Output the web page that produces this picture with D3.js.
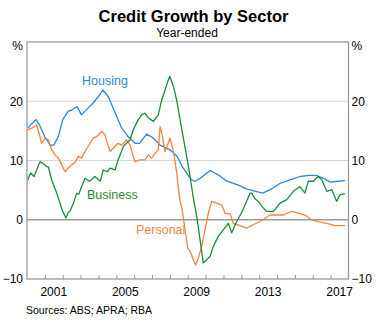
<!DOCTYPE html>
<html><head><meta charset="utf-8">
<script src="https://cdn.jsdelivr.net/npm/d3@7/dist/d3.min.js"></script>
<style>
body{margin:0;background:#fff;}
text{font-family:"Liberation Sans",Arial,sans-serif;}
</style></head>
<body><svg id="c" width="387" height="336"></svg>
<script>
const housingDates = [2000.05,2000.3,2000.5,2000.7,2001.0,2001.3,2001.5,2001.75,2002.0,2002.3,2002.55,2002.8,2003.05,2003.4,2003.7,2004.0,2004.25,2004.55,2004.9,2005.3,2005.67,2006.05,2006.3,2006.7,2007.07,2007.45,2008.0,2008.4,2008.75,2009.2,2009.4,2009.7,2010.25,2010.7,2011.2,2011.8,2012.3,2012.8,2013.2,2013.7,2014.2,2014.8,2015.3,2015.8,2016.2,2016.6,2016.97,2017.4,2017.8];
const housingValues = [15.5,16.3,16.9,16.0,14.0,12.6,12.6,14.0,16.9,18.3,18.6,19.1,17.7,18.8,19.7,20.8,21.9,20.8,18.3,15.5,14.0,12.9,12.9,14.45,13.8,12.6,11.8,10.7,8.7,6.75,6.5,7.0,8.3,7.6,6.5,5.9,5.2,4.8,4.5,5.2,6.2,6.8,7.3,7.5,7.5,7.0,6.35,6.5,6.6];

const businessDates = [2000.05,2000.2,2000.4,2000.55,2000.73,2000.9,2001.1,2001.2,2001.38,2001.66,2001.85,2002.0,2002.18,2002.3,2002.4,2002.6,2002.78,2002.9,2003.06,2003.25,2003.5,2003.8,2004.1,2004.27,2004.5,2004.65,2004.93,2005.1,2005.4,2005.77,2005.95,2006.23,2006.42,2006.6,2006.8,2007.07,2007.35,2007.54,2007.73,2007.91,2008.0,2008.2,2008.38,2008.57,2008.75,2008.94,2009.13,2009.3,2009.5,2009.69,2009.87,2010.05,2010.25,2010.43,2010.71,2010.99,2011.27,2011.46,2011.74,2012.0,2012.25,2012.49,2012.58,2012.75,2012.95,2013.23,2013.42,2013.8,2014.17,2014.54,2014.91,2015.28,2015.56,2015.75,2016.03,2016.3,2016.5,2016.78,2017.06,2017.34,2017.52,2017.8];
const businessValues = [6.75,7.9,7.3,8.5,9.8,9.5,9.0,8.9,6.75,4.5,2.8,1.4,0.3,1.2,1.4,2.8,4.5,4.3,5.6,7.0,6.5,7.3,6.5,8.4,8.1,8.7,8.4,10.1,12.4,13.5,15.2,16.9,17.7,18.0,17.2,16.6,17.7,20.2,21.9,23.6,24.2,22.5,20.2,16.9,13.8,10.7,7.3,3.9,0.6,-3.4,-7.3,-6.75,-6.2,-4.5,-2.8,-1.7,-0.6,-2.2,-0.3,1.1,2.8,4.5,4.5,3.6,3.1,2.0,1.4,1.4,2.8,3.4,4.8,5.6,4.5,6.5,6.5,7.3,6.75,4.8,5.1,3.1,4.2,4.4];

const personalDates = [2000.05,2000.3,2000.54,2000.73,2000.82,2001.0,2001.2,2001.38,2001.57,2001.75,2001.94,2002.13,2002.3,2002.5,2002.68,2002.87,2003.05,2003.25,2003.43,2003.71,2003.9,2004.18,2004.37,2004.47,2004.65,2004.83,2005.1,2005.3,2005.58,2005.77,2005.95,2006.05,2006.33,2006.6,2006.8,2006.98,2007.17,2007.35,2007.45,2007.55,2007.73,2007.85,2008.0,2008.13,2008.28,2008.38,2008.47,2008.57,2008.66,2008.85,2009.0,2009.13,2009.31,2009.44,2009.59,2009.78,2009.97,2010.15,2010.34,2010.62,2010.9,2011.09,2011.37,2011.55,2011.93,2012.3,2012.7,2013.23,2013.6,2014.0,2014.35,2014.82,2015.19,2015.56,2015.94,2016.31,2016.78,2017.25,2017.8];
const personalValues = [15.2,15.5,16.0,14.0,12.9,13.8,13.5,11.8,11.0,10.4,9.3,8.1,8.7,9.3,9.6,10.7,10.4,11.5,12.4,13.8,14.0,14.9,14.3,13.2,11.5,12.1,12.9,12.6,13.5,12.6,10.7,9.8,10.1,10.1,11.0,10.4,11.2,11.8,15.7,14.6,11.5,12.4,13.8,12.4,10.1,7.9,5.6,3.1,2.2,-1.7,-4.8,-5.3,-6.75,-7.6,-6.5,-4.5,-1.7,1.1,3.1,2.8,2.5,1.1,1.0,-0.6,-1.0,-1.4,-0.8,0.0,0.8,0.8,0.8,1.4,1.1,0.8,0.0,-0.3,-0.6,-1.0,-1.0];

const yTicks = [-10,0,10,20];
const xLabelYears = [2001,2005,2009,2013,2017];
const xTickYears = d3.range(2001,2018);

const svg = d3.select("#c");
const L=27, R=348.5, T=42, B=279;
const x = d3.scaleLinear().domain([2000,2018]).range([L,R]);
const y = d3.scaleLinear().domain([-10,30]).range([B,T]);

svg.append("text").attr("x",193.5).attr("y",22).attr("text-anchor","middle")
  .attr("font-size",16.5).attr("font-weight","bold").attr("fill","#000").text("Credit Growth by Sector");
svg.append("text").attr("x",187).attr("y",37).attr("text-anchor","middle")
  .attr("font-size",12).attr("fill","#000").text("Year-ended");

// gridlines
svg.append("g").selectAll("line").data([10,20]).join("line")
  .attr("x1",L).attr("x2",R).attr("y1",d=>y(d)).attr("y2",d=>y(d))
  .attr("stroke","#d6d6d6").attr("stroke-width",1);
svg.append("line").attr("x1",L).attr("x2",R).attr("y1",y(0)).attr("y2",y(0))
  .attr("stroke","#9a9a9a").attr("stroke-width",1.5);

// x ticks (inside, pointing up)
const xAxis = d3.axisTop(x).tickValues(xTickYears).tickSize(4).tickFormat("");
const gx = svg.append("g").attr("transform",`translate(0,${B})`).call(xAxis);
gx.select(".domain").remove();
gx.selectAll("line").attr("stroke","#9a9a9a").attr("stroke-width",1);

svg.append("g").selectAll("text").data(xLabelYears).join("text")
  .attr("x",d=>x(d+0.5)).attr("y",296).attr("text-anchor","middle")
  .attr("font-size",12).attr("fill","#000").text(d=>d);

// y labels
const yl = d3.axisLeft(y).tickValues(yTicks).tickSize(0).tickPadding(4);
const gyl = svg.append("g").attr("transform",`translate(${L},0)`).call(yl);
gyl.select(".domain").remove();
gyl.selectAll("text").attr("font-size",12).attr("font-family","Liberation Sans, Arial, sans-serif").attr("fill","#000");
const yr = d3.axisRight(y).tickValues(yTicks).tickSize(0).tickPadding(3);
const gyr = svg.append("g").attr("transform",`translate(${R},0)`).call(yr);
gyr.select(".domain").remove();
gyr.selectAll("text").attr("font-size",12).attr("font-family","Liberation Sans, Arial, sans-serif").attr("fill","#000");

svg.append("text").attr("x",23).attr("y",y(30)+8).attr("text-anchor","end").attr("font-size",12).text("%");
svg.append("text").attr("x",R+3).attr("y",y(30)+8).attr("font-size",12).text("%");

// series
const line = d3.line().x(d=>x(d[0])).y(d=>y(d[1]));
const series = [
  {dates:housingDates, vals:housingValues, color:"#2f86d3"},
  {dates:personalDates, vals:personalValues, color:"#f5823f"},
  {dates:businessDates, vals:businessValues, color:"#1f8a3c"}
];
series.forEach(s=>{
  svg.append("path").datum(d3.zip(s.dates,s.vals)).attr("d",line)
    .attr("fill","none").attr("stroke",s.color).attr("stroke-width",1.3).attr("stroke-linejoin","round");
});

// frame
svg.append("rect").attr("x",L).attr("y",T).attr("width",R-L).attr("height",B-T)
  .attr("fill","none").attr("stroke","#9a9a9a").attr("stroke-width",1.3);

// series labels
svg.append("text").attr("x",82).attr("y",85).attr("font-size",12.5).attr("fill","#2f86d3").text("Housing");
svg.append("text").attr("x",87).attr("y",198.5).attr("font-size",12.5).attr("fill","#1f8a3c").text("Business");
svg.append("text").attr("x",136).attr("y",234).attr("font-size",12.5).attr("fill","#f5823f").text("Personal");

svg.append("text").attr("x",26).attr("y",314).attr("font-size",10.5).attr("fill","#000").text("Sources: ABS; APRA; RBA");
</script></body></html>
